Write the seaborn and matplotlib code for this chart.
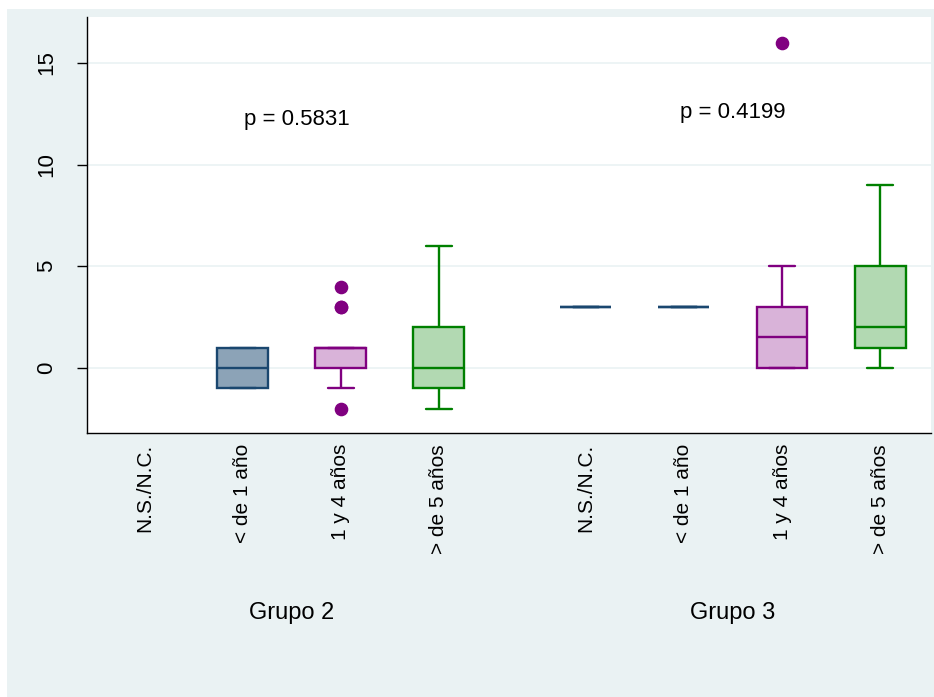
import pandas as pd
import matplotlib.pyplot as plt
import seaborn as sns
from matplotlib.patches import Rectangle

# Styles
sns.set_theme(style="white")
plt.rcParams['font.family'] = ['Liberation Sans', 'DejaVu Sans']
plt.rcParams['text.color'] = 'black'
plt.rcParams['xtick.color'] = 'black'
plt.rcParams['ytick.color'] = 'black'

categories = ['N.S./N.C.', '< de 1 año', '1 y 4 años', '> de 5 años']
groups = ['Grupo 2', 'Grupo 3']
g2_ns = []
g2_lt1 = [-1, -1, 0, 1, 1]
g2_1y4 = [-2, -1, 0, 0, 0, 1, 1, 1, 1, 1, 3, 3, 4]
g2_gt5 = [-2, -1, -1, 0, 0, 1, 2, 2, 6]
g3_ns = [3]
g3_lt1 = [3, 3]
g3_1y4 = [0, 0, 0, 0, 1, 1, 2, 3, 3, 3, 5, 16]
g3_gt5 = [0, 1, 1, 2, 2, 4, 5, 7, 9]
p_values = ['p = 0.5831', 'p = 0.4199']

edge_colors = ['#1a476f', '#1a476f', '#800080', '#008000']
fill_colors = ['#8ca3b7', '#8ca3b7', '#d9b3d9', '#b2d9b2']
positions = [0, 1, 2, 3, 4.5, 5.5, 6.5, 7.5]

series = [g2_ns, g2_lt1, g2_1y4, g2_gt5, g3_ns, g3_lt1, g3_1y4, g3_gt5]
rows = []
for i, vals in enumerate(series):
    for v in vals:
        rows.append({'pos': positions[i], 'cat': categories[i % 4], 'val': v})
df = pd.DataFrame(rows)

fig = plt.figure(figsize=(9.34, 6.97), dpi=100, facecolor='white')
fig.patches.append(Rectangle((7 / 934, 0), 1 - 7 / 934, 1 - 9 / 697, transform=fig.transFigure,
                             facecolor='#eaf2f3', edgecolor='none', zorder=-10))
ax = fig.add_axes([87 / 934, 1 - 433 / 697, (931 - 87) / 934, (433 - 17) / 697])
ax.set_facecolor('white')

# One box per position so each gets its own fill and edge colour
for i, p in enumerate(positions):
    sub = df[df['pos'] == p]
    if sub.empty:
        continue
    c = i % 4
    sns.boxplot(data=sub, x='pos', y='val', native_scale=True, ax=ax,
                width=0.52, color=fill_colors[c], linecolor=edge_colors[c],
                linewidth=1.7, saturation=1, fliersize=8.8,
                flierprops=dict(marker='o', markerfacecolor=edge_colors[c],
                                markeredgecolor=edge_colors[c]))

ax.set_xlim(-0.59, 8.02)
ax.set_ylim(-3.2, 17.26)
ax.set_yticks([0, 5, 10, 15])
ax.set_yticklabels(['0', '5', '10', '15'], rotation=90, va='center', fontsize=16)
ax.yaxis.grid(True, color='#eaf2f3', linewidth=1.2)
ax.set_axisbelow(True)
ax.tick_params(axis='y', which='both', left=True, length=7.2, width=1, pad=14)
ax.set_xticks(positions)
ax.set_xticklabels(categories * 2, rotation=90, va='top', fontsize=15)
ax.tick_params(axis='x', length=0, pad=8)
ax.set_xlabel('')
ax.set_ylabel('')

for side in ['top', 'right']:
    ax.spines[side].set_visible(False)
for side in ['left', 'bottom']:
    ax.spines[side].set_color('black')
    ax.spines[side].set_linewidth(1)

# Group labels and p-values
ax.text(1.5, -0.433, groups[0], transform=ax.get_xaxis_transform(), ha='center', va='center', fontsize=17)
ax.text(6.0, -0.433, groups[1], transform=ax.get_xaxis_transform(), ha='center', va='center', fontsize=17)
ax.text(1.55, 12.2, p_values[0], ha='center', va='center', fontsize=16)
ax.text(6.0, 12.55, p_values[1], ha='center', va='center', fontsize=16)

plt.savefig('out.png', dpi=100, facecolor=fig.get_facecolor())
